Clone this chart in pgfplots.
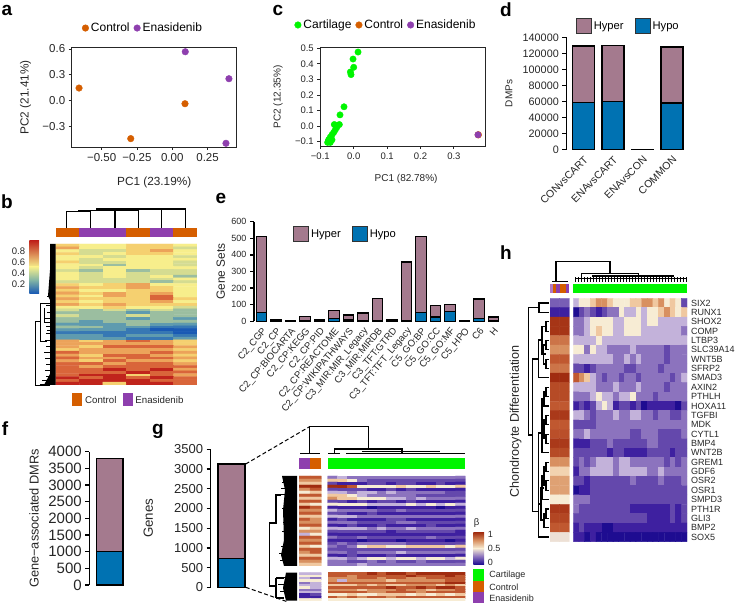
\documentclass[border=0pt]{standalone}
\usepackage{fontspec}
\usepackage{pgfplots}
\pgfplotsset{compat=1.18}
\setmainfont{Liberation Sans}
\newcommand\fs[1]{\fontsize{#1}{#1}\selectfont}
\newcommand\br[4]{\draw (#1,#3)--(#2,#3)--(#2,#4)--(#1,#4);}
\definecolor{ctl}{HTML}{D55E00}
\definecolor{ena}{HTML}{8E3FAE}
\definecolor{cart}{HTML}{00F500}
\definecolor{hyper}{HTML}{A47A8E}
\definecolor{hypo}{HTML}{0072B2}
\definecolor{txt}{HTML}{262626}
\pgfplotsset{
 /pgf/number format/assume math mode=true,
 /pgf/number format/fixed,
 /pgf/number format/1000 sep={},
 colormap={rdy}{rgb255=(26,90,180) rgb255=(55,120,180) rgb255=(95,155,175) rgb255=(155,190,160) rgb255=(213,220,145) rgb255=(247,238,140) rgb255=(245,208,112) rgb255=(236,163,90) rgb255=(217,101,58) rgb255=(192,36,28)},
 colormap={beta}{rgb255=(30,12,145) rgb255=(62,32,160) rgb255=(100,72,172) rgb255=(140,115,190) rgb255=(195,178,218) rgb255=(247,236,212) rgb255=(240,200,160) rgb255=(216,144,96) rgb255=(192,88,48) rgb255=(160,44,16)},
 base/.style={scale only axis,tick align=outside,major tick length=3pt,
   tick style={line width=0.9pt,txt},axis line style={line width=0.9pt,txt},
   clip=false,scaled ticks=false,every tick label/.append style={text=txt},
   label style={text=txt},legend cell align=left},
 scat/.style={base,xtick pos=bottom,ytick pos=left,
   legend columns=-1,
   legend style={draw=none,fill=none,anchor=center,inner sep=0pt,
     /tikz/every even column/.append style={column sep=2pt}},
   legend image code/.code={\fill[##1] (0pt,0pt) circle (3.3pt);}},
 sbar/.style={base,ybar stacked,ymin=0,axis x line*=bottom,axis y line*=left,
   x axis line style={draw=none},xtick style={draw=none},
   axis line style={line width=1.3pt,-},y axis line style={line width=1.3pt,black},
   ytick style={line width=1.3pt,black},major tick length=4pt},
 barp/.style={draw=black,line width=1.3pt,fill=#1},
 swatch/.style={reverse legend,legend columns=2,
   legend style={draw=none,fill=none,anchor=center,inner sep=0pt,
     /tikz/every even column/.append style={column sep=9pt}},
   legend image code/.code={\draw[##1,draw=black!80,line width=0.9pt] (0pt,-7.5pt) rectangle (15pt,7.5pt);}},
 heat/.style n args={3}{scale only axis,hide axis,enlargelimits=false,
   colormap name=#1,point meta min=0,point meta max=9,
   xmin=-0.5,xmax=#2-0.5,ymin=-0.5,ymax=#3-0.5,y dir=reverse},
 cell/.style={matrix plot*,mesh/cols=#1,point meta=explicit},
}
\begin{document}
\begin{tikzpicture}
\path[use as bounding box] (0,0) rectangle (736pt,604pt);

% ---------- a
\begin{axis}[scat,at={(71.7pt,457pt)},anchor=south west,width=165pt,height=99.3pt,
 xmin=-0.712,xmax=0.456,ymin=-0.537,ymax=0.615,
 xtick={-0.5,-0.25,0,0.25},xticklabels={−0.50,−0.25,0.00,0.25},
 ytick={-0.3,0,0.3,0.6},yticklabels={−0.3,0.0,0.3,0.6},
 tick label style={font=\fs{11.5}},
 xlabel={PC1 (23.19\%)},ylabel={PC2 (21.41\%)},
 xlabel style={font=\fs{11.8},at={(axis description cs:0.5,-0.36)},anchor=center},
 ylabel style={font=\fs{11.8},at={(axis description cs:-0.279,0.5)},anchor=center},
 legend style={at={(axis description cs:0.432,1.198)},font=\fs{12}}]
\addplot[only marks,mark=*,mark size=3.3pt,color=ctl] coordinates {(-0.66,0.147)(-0.294,-0.44)(0.09,-0.035)};
\addplot[only marks,mark=*,mark size=3.3pt,color=ena] coordinates {(0.092,0.568)(0.401,0.255)(0.38,-0.494)};
\legend{Control,Enasidenib}
\end{axis}

% ---------- c
\begin{axis}[scat,at={(320.3pt,458pt)},anchor=south west,width=165pt,height=98.3pt,
 xmin=-0.1,xmax=0.394,ymin=-0.128,ymax=0.504,
 xtick={-0.1,0,0.1,0.2,0.3},xticklabels={−0.1,0.0,0.1,0.2,0.3},
 ytick={-0.1,0,0.1,0.2,0.3,0.4,0.5},yticklabels={−0.1,0.0,0.1,0.2,0.3,0.4,0.5},
 tick label style={font=\fs{9.5}},
 xlabel={PC1 (82.78\%)},ylabel={PC2 (12.35\%)},
 xlabel style={font=\fs{10},at={(axis description cs:0.52,-0.336)},anchor=center},
 ylabel style={font=\fs{10},at={(axis description cs:-0.256,0.5)},anchor=center},
 legend style={at={(axis description cs:0.398,1.231)},font=\fs{12}}]
\addplot[only marks,mark=*,mark size=3.2pt,color=cart] coordinates {(0.013,0.476)(-0.002,0.431)(0,0.378)(-0.01,0.348)(-0.008,0.331)(-0.029,0.124)(-0.041,0.072)(-0.043,0.01)(-0.058,0.01)(-0.05,-0.006)(-0.055,-0.024)(-0.06,-0.041)(-0.065,-0.056)(-0.07,-0.071)(-0.075,-0.088)(-0.078,-0.105)(-0.07,-0.105)(-0.065,-0.088)};
\addplot[only marks,mark=*,mark size=3.4pt,color=ctl] coordinates {(0.373,-0.056)};
\addplot[only marks,mark=*,mark size=3.2pt,color=ena] coordinates {(0.372,-0.056)};
\legend{Cartilage,Control,Enasidenib}
\end{axis}

% ---------- d
\begin{axis}[sbar,swatch,at={(566.3pt,454.3pt)},anchor=south west,width=119.7pt,height=112.4pt,
 xmin=-0.58,xmax=3.47,ymax=140000,bar width=22pt,
 xtick={0,1,2,3},xticklabels={CONvsCART,ENAvsCART,ENAvsCON,COMMON},
 xticklabel style={rotate=45,anchor=north east,font=\fs{10.5},inner sep=1pt},
 ytick={0,20000,...,140000},yticklabel style={font=\fs{10.8}},
 ylabel={DMPs},ylabel style={font=\fs{10},at={(axis description cs:-0.479,0.5)},anchor=center},
 legend style={at={(axis description cs:0.518,1.1)},font=\fs{11.2}}]
\addplot[barp=hypo] coordinates {(0,59000)(1,60000)(2,300)(3,58000)};
\addplot[barp=hyper] coordinates {(0,70000)(1,70000)(2,200)(3,70000)};
\legend{Hypo,Hyper}
\end{axis}

% ---------- e
\begin{axis}[sbar,swatch,at={(254pt,282.7pt)},anchor=south west,width=246pt,height=99.6pt,
 xmin=-0.517,xmax=16.45,ymax=600,bar width=10.5pt,
 xtick={0,...,16},
 xticklabels={C2\_CGP,C2\_CP,C2\_CP:BIOCARTA,C2\_CP:KEGG,C2\_CP:PID,C2\_CP:REACTOME,C2\_CP:WIKIPATHWAYS,C3\_MIR:MIR\_Legacy,C3\_MIR:MIRDB,C3\_TFT:GTRD,C3\_TFT:TFT\_Legacy,C5\_GO:BP,C5\_GO:CC,C5\_GO:MF,C5\_HPO,C6,H},
 xticklabel style={rotate=50,anchor=north east,font=\fs{9.6},inner sep=1pt},
 ytick={0,100,...,600},yticklabel style={font=\fs{9}},
 ylabel={Gene Sets},ylabel style={font=\fs{11.9},at={(axis description cs:-0.135,0.5)},anchor=center},
 legend style={at={(axis description cs:0.372,0.877)},font=\fs{11.2}}]
\addplot[barp=hypo] coordinates {(0,55)(1,8)(2,1)(3,5)(4,7)(5,15)(6,8)(7,3)(8,2)(9,3)(10,1)(11,52)(12,25)(13,60)(14,0)(15,15)(16,5)};
\addplot[barp=hyper] coordinates {(0,455)(1,4)(2,2)(3,22)(4,3)(5,50)(6,30)(7,47)(8,135)(9,5)(10,356)(11,458)(12,70)(13,43)(14,3)(15,120)(16,20)};
\legend{Hypo,Hyper}
\end{axis}

% ---------- f
\begin{axis}[sbar,at={(89.3pt,19pt)},anchor=south west,width=40pt,height=133.3pt,
 xmin=-20.4,xmax=19.6,ymax=4000,bar width=26.5pt,xtick=\empty,
 ytick={0,500,...,4000},yticklabel style={font=\fs{15}},
 ylabel={Gene−associated DMRs},ylabel style={font=\fs{12.8},at={(axis description cs:-1.38,0.5)},anchor=center}]
\addplot[barp=hypo] coordinates {(0,1000)};
\addplot[barp=hyper] coordinates {(0,2800)};
\end{axis}

% ---------- g bar
\begin{axis}[sbar,at={(210.7pt,16.7pt)},anchor=south west,width=39.3pt,height=138pt,
 xmin=-20.8,xmax=18.5,ymax=3500,bar width=27pt,xtick=\empty,
 ytick={0,500,...,3500},yticklabel style={font=\fs{13}},
 ylabel={Genes},ylabel style={font=\fs{13.3},at={(axis description cs:-1.59,0.5)},anchor=center}]
\addplot[barp=hypo] coordinates {(0,735)};
\addplot[barp=hyper] coordinates {(0,2390)};
\end{axis}

% ---------- b heatmap
\begin{axis}[heat={rdy}{6}{50},at={(55.7pt,219pt)},anchor=south west,width=141.3pt,height=141pt]
\addplot[cell=6] table[header=false,row sep=\\,x expr={\coordindex-6*floor((\coordindex+0.5)/6)},y expr={floor((\coordindex+0.5)/6)},meta index=0] {6\\5\\5\\6\\6\\5\\7\\5\\5\\6\\6\\4\\5\\4\\4\\6\\7\\5\\6\\4\\5\\6\\6\\5\\5\\5\\4\\5\\5\\4\\5\\4\\5\\5\\5\\5\\6\\4\\4\\5\\5\\4\\5\\5\\3\\5\\5\\4\\5\\4\\5\\5\\5\\5\\4\\3\\5\\3\\4\\4\\5\\4\\5\\4\\4\\4\\5\\4\\5\\4\\5\\3\\5\\4\\4\\4\\4\\5\\4\\4\\4\\4\\3\\4\\6\\5\\6\\7\\5\\5\\7\\6\\6\\7\\6\\5\\6\\5\\5\\6\\6\\5\\7\\6\\7\\6\\7\\5\\6\\5\\7\\6\\8\\5\\7\\6\\6\\6\\8\\6\\6\\5\\6\\6\\7\\5\\7\\6\\7\\6\\6\\6\\5\\5\\6\\5\\5\\4\\4\\3\\4\\3\\4\\3\\3\\3\\3\\2\\3\\3\\4\\3\\3\\4\\3\\3\\3\\3\\3\\2\\3\\2\\3\\2\\3\\3\\3\\3\\2\\2\\2\\3\\2\\2\\3\\3\\2\\2\\1\\1\\2\\2\\2\\1\\0\\0\\1\\1\\1\\1\\1\\0\\2\\2\\1\\2\\2\\1\\2\\2\\2\\1\\1\\2\\7\\6\\7\\8\\7\\6\\7\\7\\7\\7\\7\\6\\7\\6\\8\\8\\8\\7\\6\\7\\7\\7\\7\\6\\8\\7\\7\\7\\8\\7\\7\\6\\8\\8\\7\\6\\8\\7\\7\\8\\8\\7\\7\\6\\8\\7\\7\\6\\8\\8\\7\\8\\8\\7\\8\\7\\8\\8\\8\\8\\8\\8\\9\\8\\9\\7\\8\\8\\8\\9\\8\\8\\8\\9\\9\\6\\8\\7\\9\\8\\9\\8\\9\\8\\8\\9\\9\\9\\8\\8\\9\\9\\6\\9\\9\\8\\};
\end{axis}

% ---------- g left heatmaps
\begin{axis}[heat={beta}{2}{30},at={(299pt,38pt)},anchor=south west,width=22.3pt,height=90pt]
\addplot[cell=2] table[header=false,row sep=\\,x expr={\coordindex-2*floor((\coordindex+0.5)/2)},y expr={floor((\coordindex+0.5)/2)},meta index=0] {8\\8\\7\\7\\6\\6\\9\\9\\7\\8\\5\\6\\8\\8\\6\\6\\8\\8\\6\\5\\9\\8\\7\\7\\8\\8\\6\\6\\8\\7\\7\\7\\8\\8\\5\\6\\7\\7\\4\\5\\8\\8\\7\\7\\8\\8\\6\\5\\8\\8\\7\\8\\6\\6\\8\\8\\7\\7\\6\\6\\};
\end{axis}
\begin{axis}[heat={beta}{2}{12},at={(299pt,3.3pt)},anchor=south west,width=22.3pt,height=28pt]
\addplot[cell=2] table[header=false,row sep=\\,x expr={\coordindex-2*floor((\coordindex+0.5)/2)},y expr={floor((\coordindex+0.5)/2)},meta index=0] {4\\4\\5\\5\\4\\3\\5\\5\\3\\4\\4\\4\\5\\4\\3\\3\\4\\4\\1\\2\\1\\1\\5\\5\\};
\end{axis}

% ---------- g main heatmaps
\begin{axis}[heat={beta}{14}{30},at={(327.7pt,38pt)},anchor=south west,width=137.6pt,height=90pt]
\addplot[cell=14] table[header=false,row sep=\\,x expr={\coordindex-14*floor((\coordindex+0.5)/14)},y expr={floor((\coordindex+0.5)/14)},meta index=0] {3\\4\\3\\3\\3\\3\\3\\3\\3\\3\\3\\3\\3\\3\\6\\6\\5\\3\\2\\2\\2\\2\\2\\2\\2\\2\\2\\2\\2\\1\\1\\1\\2\\2\\1\\2\\2\\1\\1\\2\\1\\1\\9\\9\\8\\5\\5\\5\\5\\6\\5\\5\\6\\5\\5\\6\\2\\2\\2\\2\\1\\1\\2\\1\\2\\1\\1\\1\\1\\1\\4\\4\\3\\4\\4\\3\\4\\3\\3\\3\\3\\3\\2\\2\\6\\6\\5\\4\\3\\3\\3\\3\\3\\2\\2\\2\\2\\2\\7\\6\\6\\5\\5\\5\\4\\4\\3\\4\\3\\3\\3\\3\\2\\2\\1\\2\\1\\2\\2\\1\\2\\1\\1\\1\\1\\1\\5\\5\\5\\5\\4\\4\\4\\4\\5\\4\\5\\4\\5\\4\\1\\1\\1\\1\\0\\1\\1\\1\\1\\1\\1\\0\\1\\1\\4\\3\\3\\3\\3\\2\\2\\3\\2\\2\\2\\2\\2\\2\\2\\2\\1\\1\\2\\1\\1\\1\\1\\1\\1\\1\\1\\1\\4\\4\\4\\3\\3\\3\\3\\3\\3\\3\\3\\3\\3\\3\\1\\2\\1\\1\\1\\1\\2\\2\\1\\1\\1\\1\\1\\1\\3\\3\\3\\2\\2\\2\\2\\3\\3\\2\\2\\2\\2\\2\\1\\1\\2\\1\\1\\2\\1\\1\\1\\1\\2\\1\\1\\1\\4\\4\\4\\4\\3\\4\\3\\3\\4\\3\\3\\3\\3\\3\\2\\2\\2\\2\\2\\2\\1\\2\\2\\2\\2\\2\\2\\1\\1\\1\\1\\1\\1\\1\\1\\1\\1\\1\\1\\1\\1\\1\\3\\2\\2\\3\\2\\2\\2\\2\\2\\2\\3\\2\\2\\2\\1\\1\\1\\0\\1\\1\\1\\0\\1\\1\\1\\1\\0\\1\\2\\3\\2\\3\\3\\3\\3\\3\\2\\2\\2\\2\\2\\2\\3\\2\\3\\5\\6\\6\\5\\5\\6\\6\\6\\6\\5\\6\\2\\2\\2\\2\\2\\2\\2\\2\\2\\2\\2\\2\\2\\2\\3\\3\\2\\3\\3\\3\\3\\4\\3\\3\\3\\3\\3\\3\\1\\1\\2\\1\\1\\1\\2\\1\\1\\1\\1\\1\\1\\1\\4\\4\\3\\4\\5\\5\\4\\5\\5\\4\\5\\5\\4\\5\\3\\3\\2\\2\\3\\2\\3\\2\\2\\3\\2\\2\\2\\2\\3\\3\\3\\4\\3\\3\\3\\3\\3\\3\\3\\3\\3\\3\\};
\end{axis}
\begin{axis}[heat={beta}{14}{12},at={(327.7pt,3.3pt)},anchor=south west,width=137.6pt,height=28pt]
\addplot[cell=14] table[header=false,row sep=\\,x expr={\coordindex-14*floor((\coordindex+0.5)/14)},y expr={floor((\coordindex+0.5)/14)},meta index=0] {8\\8\\8\\8\\9\\8\\9\\9\\8\\9\\9\\9\\9\\9\\8\\8\\7\\8\\8\\8\\8\\8\\9\\8\\8\\8\\9\\8\\7\\7\\7\\8\\8\\7\\8\\8\\7\\7\\8\\8\\8\\8\\7\\4\\7\\7\\7\\7\\6\\7\\7\\7\\7\\7\\8\\8\\8\\8\\8\\8\\8\\8\\8\\8\\8\\8\\8\\8\\9\\9\\6\\6\\6\\7\\6\\7\\6\\6\\7\\7\\7\\6\\7\\6\\8\\8\\8\\8\\8\\8\\9\\8\\8\\9\\8\\9\\9\\8\\7\\7\\7\\6\\7\\7\\7\\8\\7\\7\\6\\7\\7\\8\\8\\8\\8\\8\\7\\7\\8\\8\\8\\7\\8\\8\\8\\8\\5\\5\\6\\5\\5\\6\\6\\6\\5\\6\\5\\6\\5\\6\\8\\7\\8\\7\\8\\8\\7\\8\\8\\8\\8\\8\\8\\8\\5\\5\\5\\5\\5\\5\\5\\5\\5\\5\\5\\5\\5\\5\\};
\end{axis}

% ---------- h left strip
\begin{axis}[heat={beta}{2}{26},at={(550pt,62.3pt)},anchor=south west,width=19.3pt,height=243.4pt]
\addplot[cell=2] table[header=false,row sep=\\,x expr={\coordindex-2*floor((\coordindex+0.5)/2)},y expr={floor((\coordindex+0.5)/2)},meta index=0] {2.5\\2.5\\1\\1\\8.8\\8.8\\8.8\\8.8\\7.5\\7.5\\7\\7\\8\\8\\7.5\\7.5\\9\\9\\8.3\\8.3\\8.3\\8.3\\8\\8\\8.7\\8.7\\8\\8\\8.2\\8.2\\8.7\\8.7\\8.3\\8.3\\7\\7\\5.7\\5.7\\6.7\\6.7\\6.7\\6.7\\5\\5\\8.7\\8.7\\8.4\\8.4\\8\\8\\4.8\\4.8\\};
\end{axis}

% ---------- h main
\begin{axis}[heat={beta}{20}{26},hide axis=false,at={(573.3pt,62.3pt)},anchor=south west,width=113.7pt,height=243.4pt,
 xtick=\empty,ytick={0,...,25},axis line style={draw=none},major tick length=0pt,tick style={draw=none},
 yticklabel pos=right,yticklabel style={font=\fs{9},text=txt,inner sep=4pt},
 yticklabels={SIX2,RUNX1,SHOX2,COMP,LTBP3,SLC39A14,WNT5B,SFRP2,SMAD3,AXIN2,PTHLH,HOXA11,TGFBI,MDK,CYTL1,BMP4,WNT2B,GREM1,GDF6,OSR2,OSR1,SMPD3,PTH1R,GLI3,BMP2,SOX5}]
\addplot[cell=20] table[header=false,row sep=\\,x expr={\coordindex-20*floor((\coordindex+0.5)/20)},y expr={floor((\coordindex+0.5)/20)},meta index=0] {4\\5\\5\\6\\7\\7\\6\\5\\5\\5\\6\\6\\7\\7\\6\\7\\5\\6\\5\\2\\0\\2\\3\\2\\1\\2\\3\\3\\5\\4\\4\\5\\4\\5\\5\\6\\7\\6\\5\\6\\3\\3\\4\\5\\5\\5\\5\\4\\4\\5\\5\\5\\4\\5\\5\\4\\4\\4\\4\\4\\3\\3\\4\\5\\6\\5\\5\\4\\4\\5\\5\\5\\4\\4\\4\\4\\4\\4\\4\\3\\4\\4\\4\\4\\5\\4\\4\\4\\4\\4\\4\\4\\4\\4\\4\\4\\4\\4\\4\\4\\5\\5\\3\\5\\4\\4\\3\\3\\3\\3\\4\\3\\3\\3\\3\\3\\2\\3\\3\\3\\4\\4\\4\\4\\4\\4\\4\\3\\3\\4\\3\\4\\3\\3\\3\\3\\2\\3\\3\\3\\2\\2\\1\\2\\3\\3\\3\\3\\3\\2\\2\\3\\3\\3\\3\\2\\3\\3\\3\\3\\8\\7\\6\\4\\3\\2\\3\\3\\2\\3\\3\\2\\3\\3\\3\\3\\3\\2\\3\\4\\4\\4\\4\\4\\3\\3\\3\\4\\3\\3\\3\\4\\3\\3\\3\\3\\2\\3\\3\\3\\3\\3\\3\\4\\5\\4\\4\\3\\4\\4\\5\\3\\3\\3\\2\\3\\3\\3\\3\\3\\1\\2\\1\\2\\4\\5\\4\\1\\2\\2\\1\\2\\0\\1\\1\\1\\1\\1\\0\\2\\4\\4\\3\\2\\3\\3\\3\\4\\3\\3\\4\\4\\3\\3\\2\\3\\3\\2\\2\\3\\2\\2\\2\\2\\3\\3\\3\\3\\3\\3\\3\\3\\3\\3\\3\\3\\3\\3\\3\\3\\3\\3\\4\\3\\3\\3\\3\\3\\3\\3\\2\\2\\3\\3\\3\\2\\2\\2\\2\\3\\1\\1\\1\\2\\2\\2\\3\\2\\2\\2\\2\\2\\2\\3\\3\\2\\2\\2\\2\\2\\2\\2\\2\\2\\2\\2\\1\\2\\2\\1\\1\\1\\1\\2\\2\\2\\2\\1\\2\\2\\2\\3\\2\\3\\4\\4\\4\\3\\4\\4\\3\\3\\3\\3\\3\\3\\2\\3\\2\\3\\1\\3\\3\\4\\4\\4\\4\\3\\4\\4\\4\\4\\4\\3\\3\\4\\3\\3\\3\\3\\2\\2\\1\\2\\2\\2\\2\\2\\2\\2\\3\\2\\2\\2\\2\\3\\2\\2\\2\\3\\0\\1\\1\\2\\2\\2\\2\\2\\2\\2\\2\\2\\2\\2\\2\\2\\2\\2\\2\\2\\3\\3\\3\\2\\2\\2\\2\\2\\2\\2\\2\\2\\2\\2\\2\\2\\2\\2\\2\\2\\3\\2\\2\\2\\2\\2\\2\\2\\2\\2\\1\\1\\1\\1\\1\\1\\1\\2\\1\\2\\2\\2\\2\\2\\2\\2\\2\\2\\2\\2\\2\\2\\2\\1\\1\\1\\1\\2\\1\\2\\1\\2\\1\\1\\1\\0\\0\\1\\1\\1\\1\\1\\1\\1\\1\\1\\1\\1\\1\\1\\1\\1\\0\\1\\0\\0\\0\\0\\0\\0\\0\\0\\0\\0\\0\\0\\0\\0\\0\\0\\};
\end{axis}

% ---------- annotations, dendrograms, keys (pixel coordinates)
\begin{scope}[shift={(0pt,604pt)},x=1pt,y=-1pt,line width=0.9pt]
 % panel letters
 \foreach \l/\x/\y in {a/7/10,c/278/10,d/506/10,b/7/202,e/221/198,h/506/253,f/5/429,g/158/431}
   \node[font=\fs{19}\bfseries,inner sep=0pt] at (\x,\y) {\l};

 % b top strip
 \fill[ctl] (55.7,227.7) rectangle (79.25,236.7);
 \fill[ena] (79.25,227.7) rectangle (126.35,236.7);
 \fill[ctl] (126.35,227.7) rectangle (149.9,236.7);
 \fill[ena] (149.9,227.7) rectangle (173.45,236.7);
 \fill[ctl] (173.45,227.7) rectangle (197,236.7);
 % b top dendrogram
 \begin{scope}[line width=1.1pt]
 \draw (66.7,227.7)--(66.7,211.7)--(90.7,211.7)--(90.7,227.7);
 \draw (115,227.7)--(115,210.7)--(138.3,210.7)--(138.3,227.7);
 \draw (161.7,227.7)--(161.7,209)--(185.7,209)--(185.7,227.7);
 \draw (78.7,211.7)--(78.7,210.7)--(126.7,210.7);
 \draw (96.7,210.7)--(96.7,209)--(161.7,209);
 \end{scope}
 % b left dendrogram
 \fill (50,244)--(55.7,244)--(55.7,385)--(44,385)--(50,374)--(50,300)--(48,296)--(50,270)--cycle;
 \foreach \y/\xa in {296/47,305/46,312/47,318/45,326/46,333/46,340/45,346/46,352/44,358/45,364/46,370/45,376/46,380/42,384/40}
   \draw[line width=0.8pt] (\xa,\y)--(52,\y);
 \draw (50,385)--(35.7,385)--(35.7,321.7)--(40.7,321.7);
 \draw (40.7,303)--(40.7,341.7)--(47,341.7);
 \draw (40.7,303)--(50,303);
 \draw (44,308)--(44,322)--(50,322);
 \draw (47,330)--(50,330);
 % b colour key
 \shade[top color={rgb,255:red,192;green,36;blue,28},bottom color={rgb,255:red,245;green,238;blue,140}] (29.3,241) rectangle (39,267);
 \shade[top color={rgb,255:red,245;green,238;blue,140},bottom color={rgb,255:red,26;green,90;blue,180},middle color={rgb,255:red,130;green,180;blue,165}] (29.3,267) rectangle (39,293.3);
 \foreach \t/\y in {0.8/251.7,0.6/262.3,0.4/273.3,0.2/284}
   \node[anchor=east,font=\fs{9.5},text=txt,inner sep=0pt] at (25.5,\y) {\t};
 % b lower key
 \fill[ctl] (71.7,393.3) rectangle (82.3,405.7);
 \fill[ena] (122.7,393.3) rectangle (133.3,405.7);
 \node[anchor=west,font=\fs{9.7},text=txt,inner sep=0pt] at (84.7,399.7) {Control};
 \node[anchor=west,font=\fs{9.7},text=txt,inner sep=0pt] at (135,399.7) {Enasidenib};

 % g dashed connectors
 \draw[dashed,line width=1pt,dash pattern=on 4pt off 2.5pt] (245.7,464)--(309,427);
 \draw[dashed,line width=1pt,dash pattern=on 4pt off 2.5pt] (245.7,587.3)--(288,602);
 % g strips
 \fill[ena] (299,457.7) rectangle (310,469.3);
 \fill[ctl] (310,457.7) rectangle (321.3,469.3);
 \fill[cart] (327.7,457.7) rectangle (465.3,469.3);
 % g top dendrogram
 \begin{scope}[line width=1.1pt]
 \draw (309.5,453)--(309.5,426.7)--(368.7,426.7)--(368.7,449);
 \draw (300,453.5)--(320,453.5);
 \draw (334.7,453)--(334.7,449)--(402,449)--(402,453);
 \draw (328,453.5)--(340,453.5);
 \draw (362,451.5)--(440,451.5);
 \end{scope}
 \fill (346,452.6) rectangle (465,454.3);
 % g left dendrogram
 \fill (282,476)--(297,476)--(297,566)--(284,566)--(281,555)--(284,540)--(283,510)--(285,490)--cycle;
 \fill (286,572.7)--(297,572.7)--(297,600.7)--(286,600.7)--(283,588)--cycle;
 \foreach \y/\xa/\xb in {482/282/286,488/281/288,494/279/287,501/284/289,508/282/287,515/285/291,522/283/289,531/282/288,538/284/286,546/281/287,553/279/285,560/280/286,577/282/287,584/278/287,591/280/288}
   \draw[line width=0.9pt] (\xa,\y)--(\xb,\y);
 \begin{scope}[line width=1.1pt]
 \draw (281,495)--(276,495)--(276,523)--(269.5,523)--(269.5,586)--(276,586);
 \draw (276,578)--(276,598);
 \draw (276,578)--(284,578);
 \draw (276,598)--(284,598);
 \end{scope}
 % g colour key
 \shade[top color={rgb,255:red,160;green,44;blue,16},bottom color={rgb,255:red,247;green,236;blue,212},middle color={rgb,255:red,216;green,144;blue,96}] (473.3,532.3) rectangle (484,548.3);
 \shade[top color={rgb,255:red,247;green,236;blue,212},bottom color={rgb,255:red,30;green,12;blue,145},middle color={rgb,255:red,140;green,115;blue,190}] (473.3,548.3) rectangle (484,564.3);
 \node[font=\fs{9.5},text=txt,inner sep=0pt] at (476.7,523.5) {β};
 \foreach \t/\y in {1/534.5,0.5/548.3,0/562.3}
   \node[anchor=west,font=\fs{9},text=txt,inner sep=0pt] at (487.5,\y) {\t};
 \fill[cart] (473.3,569.3) rectangle (484,581);
 \fill[ctl] (473.3,581) rectangle (484,592);
 \fill[ena] (473.3,592) rectangle (484,603.5);
 \node[anchor=west,font=\fs{9},text=txt,inner sep=0pt] at (489,575) {Cartilage};
 \node[anchor=west,font=\fs{9},text=txt,inner sep=0pt] at (489,587) {Control};
 \node[anchor=west,font=\fs{9},text=txt,inner sep=0pt] at (489,598) {Enasidenib};

 % h strips
 \fill[ena!70!white] (550,284.3) rectangle (569.3,293);
 \fill[ctl] (553.2,284.3) rectangle (556.4,293);
 \fill[ena] (556.4,284.3) rectangle (559.6,293);
 \fill[ctl] (559.6,284.3) rectangle (565.5,293);
 \fill[ena] (565.5,284.3) rectangle (569.3,293);
 \fill[cart] (573.3,284.3) rectangle (687,293);
 % h top dendrogram
 \begin{scope}[line width=1.1pt]
 \draw (556,280.7)--(556,261.7)--(610,261.7)--(610,273.3);
 \draw (552,281.5)--(568,281.5);
 \draw (581.7,279)--(581.7,273.3)--(638.3,273.3)--(638.3,276);
 \draw (592,276)--(674,276);
 \end{scope}
 \foreach \x in {575,578,...,686} \draw[line width=0.8pt] (\x,282)--(\x,277.5);
 \draw[line width=0.9pt] (575,278.5)--(686,278.5);
 % h side label
 \node[rotate=90,font=\fs{12.6},text=txt,inner sep=0pt] at (515.7,421.6) {Chondrocyte Differentiation};
 % h left dendrogram
 \begin{scope}[line width=1.1pt]
 \br{549}{539}{303}{312.3}
 \draw (539,307.6)--(528.7,307.6)--(528.7,435)--(532.7,435);
 \br{549}{546}{321.7}{331.1}
 \br{549}{546}{340.4}{349.8}
 \br{549}{546}{359.2}{368.5}
 \br{546}{543.5}{345}{364}
 \br{546}{542}{326.4}{354}
 \br{542}{538.3}{340}{377.9}
 \draw (549,377.9)--(538.3,377.9);
 \draw (538.3,359)--(532.7,359)--(532.7,511.7)--(538.3,511.7);
 \br{549}{546}{387.2}{396.6}
 \br{546}{544}{392}{406}
 \draw (549,406)--(544,406);
 \br{549}{546}{415.3}{424.7}
 \br{549}{546}{434.1}{443.4}
 \br{546}{544}{420}{438.7}
 \br{544}{542}{399}{429}
 \draw (549,452.8)--(542,452.8)--(542,414);
 \draw (542,433)--(538.3,433)--(538.3,487);
 \br{549}{546}{462.1}{471.5}
 \br{549}{546}{480.9}{490.2}
 \br{546}{544}{466.8}{485.5}
 \br{544}{542}{476}{499.6}
 \draw (549,499.6)--(544,499.6);
 \br{549}{546}{509}{518.3}
 \br{546}{544}{513.6}{527.7}
 \draw (549,527.7)--(544,527.7);
 \br{544}{541}{488}{520}
 \draw (541,504)--(538.3,504);
 \draw (538.3,487)--(538.3,537)--(549,537);
 \end{scope}
\end{scope}
\end{tikzpicture}
\end{document}
